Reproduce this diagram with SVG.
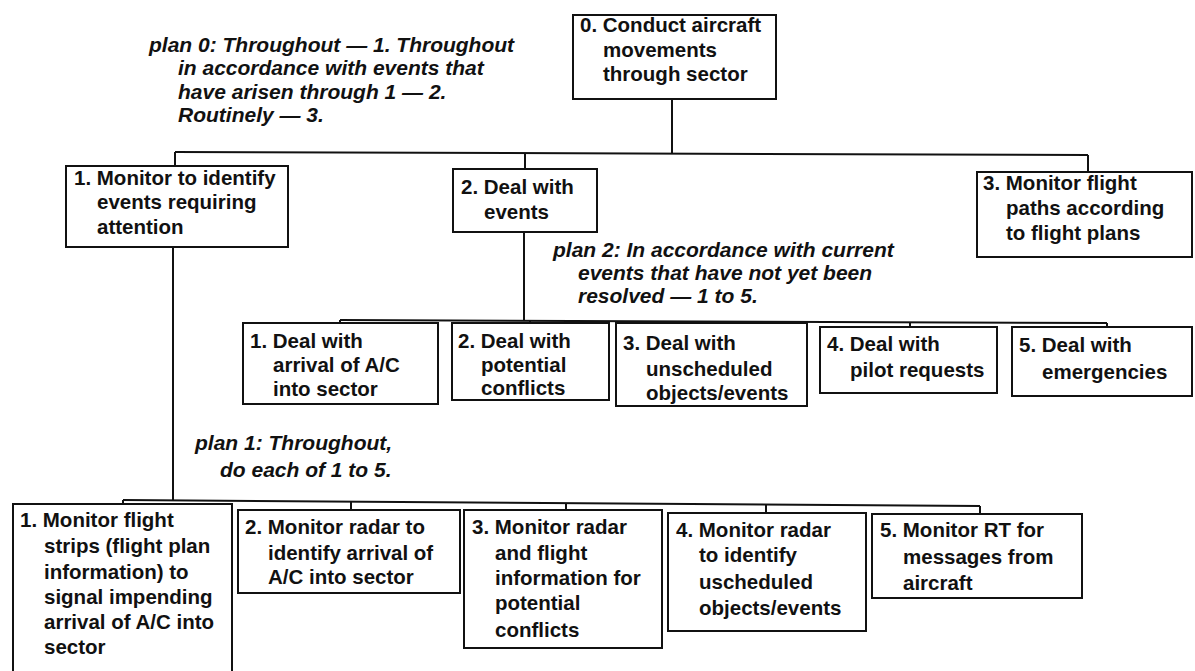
<svg xmlns="http://www.w3.org/2000/svg" width="1195" height="671" viewBox="0 0 1195 671">
  <style>
    .box { fill: #fff; stroke: #111; stroke-width: 2; }
    .open { fill: none; stroke: #111; stroke-width: 2; }
    .wire { fill: none; stroke: #111; stroke-width: 2; }
    text { font-family: "Liberation Sans", Arial, Helvetica, sans-serif; font-weight: bold; font-size: 20.5px; fill: #111; }
    .plan { font-style: italic; font-size: 21px; }
  </style>
  <rect x="0" y="0" width="1195" height="671" fill="#fff"/>

  <!-- hierarchy connectors -->
  <g id="connectors">
    <!-- level 0 to level 1 -->
    <line class="wire" x1="672" y1="99" x2="672" y2="153"/>
    <polyline class="wire" points="175,152 1088,155"/>
    <line class="wire" x1="175" y1="152" x2="175" y2="166"/>
    <line class="wire" x1="525" y1="153" x2="525" y2="169"/>
    <line class="wire" x1="1088" y1="155" x2="1088" y2="172"/>
    <!-- task 2 to its sub-tasks -->
    <line class="wire" x1="524" y1="232" x2="524" y2="320"/>
    <polyline class="wire" points="340,320 1107,323"/>
    <line class="wire" x1="340" y1="320" x2="340" y2="323"/>
    <line class="wire" x1="530" y1="320" x2="530" y2="323"/>
    <line class="wire" x1="715" y1="321" x2="715" y2="323"/>
    <line class="wire" x1="910" y1="322" x2="910" y2="327"/>
    <line class="wire" x1="1107" y1="323" x2="1107" y2="327"/>
    <!-- task 1 to its sub-tasks -->
    <line class="wire" x1="173" y1="247" x2="173" y2="500"/>
    <polyline class="wire" points="123,500 980,506"/>
    <line class="wire" x1="123" y1="500" x2="123" y2="504"/>
    <line class="wire" x1="351" y1="502" x2="351" y2="510"/>
    <line class="wire" x1="566" y1="503" x2="566" y2="510"/>
    <line class="wire" x1="766" y1="505" x2="766" y2="513"/>
    <line class="wire" x1="980" y1="506" x2="980" y2="514"/>
  </g>

  <!-- plans -->
  <g id="plan0">
    <text class="plan" x="149" y="52">plan 0: Throughout — 1. Throughout</text>
    <text class="plan" x="178" y="75">in accordance with events that</text>
    <text class="plan" x="178" y="99">have arisen through 1 — 2.</text>
    <text class="plan" x="178" y="122">Routinely — 3.</text>
  </g>
  <g id="plan2">
    <text class="plan" x="553" y="257">plan 2: In accordance with current</text>
    <text class="plan" x="578" y="280">events that have not yet been</text>
    <text class="plan" x="578" y="303">resolved  — 1 to 5.</text>
  </g>
  <g id="plan1">
    <text class="plan" x="195" y="450">plan 1: Throughout,</text>
    <text class="plan" x="220" y="477">do each of 1 to 5.</text>
  </g>

  <!-- level 0 -->
  <g id="task0">
    <rect class="box" x="573" y="15" width="203" height="84"/>
    <text x="580" y="32">0. Conduct aircraft</text>
    <text x="603" y="57">movements</text>
    <text x="603" y="81">through sector</text>
  </g>

  <!-- level 1 -->
  <g id="task1">
    <rect class="box" x="66" y="166" width="222" height="81"/>
    <text x="74" y="185">1. Monitor to identify</text>
    <text x="97" y="209">events requiring</text>
    <text x="97" y="234">attention</text>
  </g>
  <g id="task2">
    <rect class="box" x="453" y="169" width="144" height="63"/>
    <text x="461" y="194">2. Deal with</text>
    <text x="484" y="219">events</text>
  </g>
  <g id="task3">
    <rect class="box" x="977" y="172" width="215" height="85"/>
    <text x="983" y="190">3. Monitor flight</text>
    <text x="1006" y="215">paths according</text>
    <text x="1006" y="240">to flight plans</text>
  </g>

  <!-- sub-tasks of 2 -->
  <g id="task2-1">
    <rect class="box" x="243" y="323" width="195" height="81"/>
    <text x="250" y="348">1. Deal with</text>
    <text x="273" y="372">arrival of A/C</text>
    <text x="273" y="396">into sector</text>
  </g>
  <g id="task2-2">
    <rect class="box" x="452" y="323" width="157" height="77"/>
    <text x="458" y="348">2. Deal with</text>
    <text x="481" y="372">potential</text>
    <text x="481" y="395">conflicts</text>
  </g>
  <g id="task2-3">
    <rect class="box" x="616" y="323" width="191" height="83"/>
    <text x="623" y="350">3. Deal with</text>
    <text x="646" y="376">unscheduled</text>
    <text x="646" y="400">objects/events</text>
  </g>
  <g id="task2-4">
    <rect class="box" x="820" y="327" width="177" height="66"/>
    <text x="827" y="351">4. Deal with</text>
    <text x="850" y="377">pilot requests</text>
  </g>
  <g id="task2-5">
    <rect class="box" x="1012" y="327" width="180" height="69"/>
    <text x="1019" y="352">5. Deal with</text>
    <text x="1042" y="379">emergencies</text>
  </g>

  <!-- sub-tasks of 1 -->
  <g id="task1-1">
    <path class="open" d="M13,675 V504 H232 V675"/>
    <text x="20" y="527">1. Monitor flight</text>
    <text x="44" y="553">strips (flight plan</text>
    <text x="44" y="579">information) to</text>
    <text x="44" y="604">signal impending</text>
    <text x="44" y="629">arrival of A/C into</text>
    <text x="44" y="654">sector</text>
  </g>
  <g id="task1-2">
    <rect class="box" x="238" y="510" width="222" height="83"/>
    <text x="245" y="534">2. Monitor radar to</text>
    <text x="268" y="560">identify arrival of</text>
    <text x="268" y="584">A/C into sector</text>
  </g>
  <g id="task1-3">
    <rect class="box" x="464" y="510" width="198" height="138"/>
    <text x="472" y="534">3. Monitor radar</text>
    <text x="495" y="560">and flight</text>
    <text x="495" y="585">information for</text>
    <text x="495" y="610">potential</text>
    <text x="495" y="637">conflicts</text>
  </g>
  <g id="task1-4">
    <rect class="box" x="668" y="513" width="198" height="118"/>
    <text x="676" y="537">4. Monitor radar</text>
    <text x="699" y="562">to identify</text>
    <text x="699" y="589">uscheduled</text>
    <text x="699" y="615">objects/events</text>
  </g>
  <g id="task1-5">
    <rect class="box" x="872" y="514" width="210" height="84"/>
    <text x="880" y="537">5. Monitor RT for</text>
    <text x="903" y="564">messages from</text>
    <text x="903" y="590">aircraft</text>
  </g>
</svg>
